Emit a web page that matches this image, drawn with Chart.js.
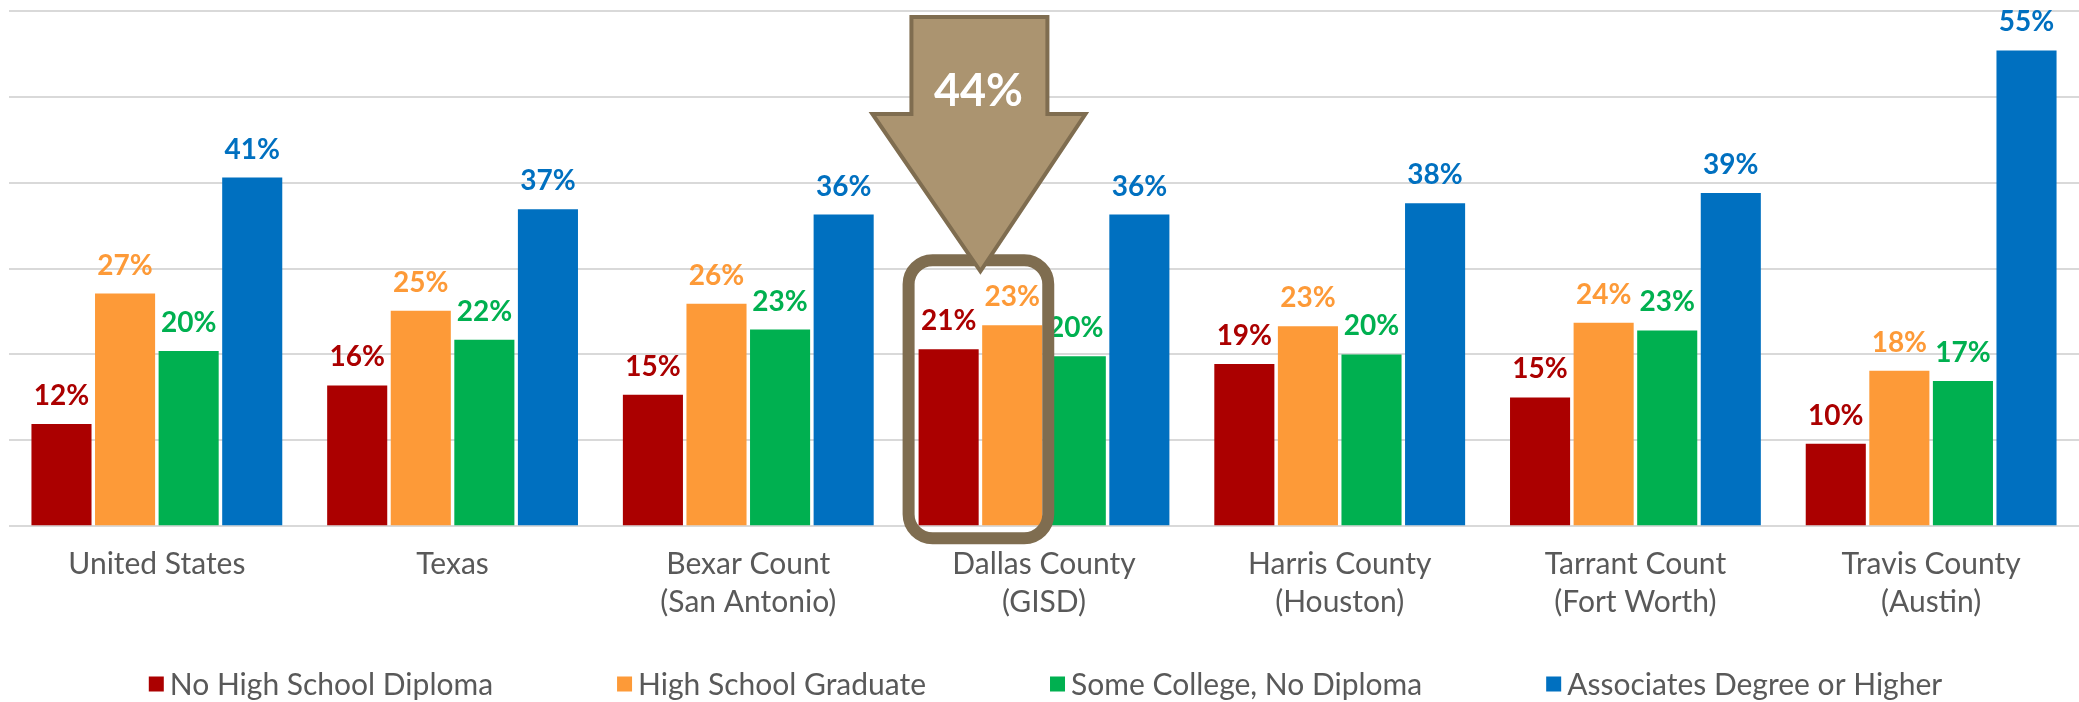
<!DOCTYPE html>
<html>
<head>
<meta charset="utf-8">
<script src="https://cdn.jsdelivr.net/npm/chart.js@4.4.1/dist/chart.umd.min.js"></script>
<style>
	html, body { margin: 0; padding: 0; background: #fff; overflow: hidden; }
	#wadah { width: 2079px; height: 702px; }
</style>
</head>
<body>
<div id="wadah"><canvas id="grafik"></canvas></div>
<script>
// kategori (label sumbu x, dua baris kalau perlu)
var wilayah = [
	['United States'],
	['Texas'],
	['Bexar Count', '(San Antonio)'],
	['Dallas County', '(GISD)'],
	['Harris County', '(Houston)'],
	['Tarrant Count', '(Fort Worth)'],
	['Travis County', '(Austin)']
];

// persen per seri
var noDiploma   = [11.9, 16.4, 15.3, 20.6, 18.9, 15.0, 9.6];
var hsGraduate  = [27.1, 25.1, 25.9, 23.4, 23.3, 23.7, 18.1];
var someCollege = [20.4, 21.7, 22.9, 19.8, 20.0, 22.8, 16.9];
var associates  = [40.6, 36.9, 36.3, 36.3, 37.6, 38.8, 55.4];

var namaSeri  = ['No High School Diploma', 'High School Graduate', 'Some College, No Diploma', 'Associates Degree or Higher'];
var warnaSeri = ['#ab0000', '#fd9a38', '#00b050', '#0070c0'];

var yMin = 0, yMax = 60, yStep = 10;

// sorotan Dallas
var sorotIndex = 3;
var sorotTeks = '44%';

var abu = '#595959';
var huruf = 'Lato';

// label persen di atas batang
var labelAtas = {
	id: 'labelAtas',
	afterDatasetsDraw: function(chart){
		var ctx = chart.ctx;
		ctx.save();
		ctx.font = 'bold 28px ' + huruf;
		ctx.textAlign = 'center';
		ctx.textBaseline = 'alphabetic';
		chart.data.datasets.forEach(function(ds, i){
			var meta = chart.getDatasetMeta(i);
			ctx.fillStyle = ds.backgroundColor;
			meta.data.forEach(function(bar, j){
				ctx.fillText(Math.round(ds.data[j]) + '%', bar.x, bar.y - 19);
			});
		});
		ctx.restore();
	}
};

// kotak + panah di Dallas County
var sorot = {
	id: 'sorot',
	afterDraw: function(chart){
		var ctx = chart.ctx;
		var a = chart.getDatasetMeta(0).data[sorotIndex];
		var b = chart.getDatasetMeta(1).data[sorotIndex];
		var kiri = a.x - a.width / 2 - 10;
		var kanan = b.x + b.width / 2 + 6;
		var atasKotak = Math.min(a.y, b.y) - 65;
		var bawahKotak = chart.scales.y.getPixelForValue(0) + 12;

		ctx.save();
		ctx.strokeStyle = '#7f6d50';
		ctx.lineWidth = 12;
		ctx.beginPath();
		ctx.roundRect(kiri, atasKotak, kanan - kiri, bawahKotak - atasKotak, 24);
		ctx.stroke();

		var cx = (a.x + b.x) / 2;
		var atas = chart.chartArea.top + 6;
		var leher = atas + 97;
		var ujung = atasKotak + 11;
		ctx.beginPath();
		ctx.moveTo(cx - 69, atas);
		ctx.lineTo(cx + 67, atas);
		ctx.lineTo(cx + 67, leher);
		ctx.lineTo(cx + 105, leher);
		ctx.lineTo(cx, ujung);
		ctx.lineTo(cx - 108, leher);
		ctx.lineTo(cx - 69, leher);
		ctx.closePath();
		ctx.fillStyle = '#ab9470';
		ctx.fill();
		ctx.lineWidth = 4;
		ctx.lineJoin = 'miter';
		ctx.stroke();

		ctx.fillStyle = '#ffffff';
		ctx.font = 'bold 45px ' + huruf;
		ctx.textAlign = 'center';
		ctx.textBaseline = 'middle';
		ctx.fillText(sorotTeks, cx - 2, atas + 74);
		ctx.restore();
	}
};

// legenda bawah, digambar sendiri supaya jaraknya pas
var legendaBawah = {
	id: 'legendaBawah',
	afterDraw: function(chart){
		var ctx = chart.ctx;
		ctx.save();
		ctx.font = '30px ' + huruf;
		ctx.textBaseline = 'middle';
		ctx.textAlign = 'left';
		var kotak = 15, jarakTeks = 6, jarakItem = 124;
		var lebar = chart.data.datasets.map(function(ds){
			return kotak + jarakTeks + ctx.measureText(ds.label).width;
		});
		var total = lebar.reduce(function(s, w){ return s + w; }, 0) + jarakItem * (lebar.length - 1);
		var x = (chart.width - total) / 2 + 6;
		var y = chart.height - 18;
		chart.data.datasets.forEach(function(ds, i){
			ctx.fillStyle = ds.backgroundColor;
			ctx.fillRect(x, y - kotak / 2, kotak, kotak);
			ctx.fillStyle = abu;
			ctx.fillText(ds.label, x + kotak + jarakTeks, y + 1);
			x += lebar[i] + jarakItem;
		});
		ctx.restore();
	}
};

var seri = [noDiploma, hsGraduate, someCollege, associates];
var datagrafik = {
	labels: wilayah,
	datasets: seri.map(function(d, i){
		return {
			label: namaSeri[i],
			data: d,
			backgroundColor: warnaSeri[i],
			borderWidth: 0,
			categoryPercentage: 0.86,
			barPercentage: 0.945
		};
	})
};

var grafikku = new Chart(document.getElementById('grafik'), {
	type: 'bar',
	data: datagrafik,
	plugins: [labelAtas, sorot, legendaBawah],
	options: {
		responsive: true,
		maintainAspectRatio: false,
		animation: false,
		devicePixelRatio: 1,
		layout: { padding: { top: 11, left: 9, right: 0, bottom: 69 } },
		plugins: {
			legend: { display: false },
			tooltip: { enabled: false }
		},
		scales: {
			x: {
				grid: { display: false },
				border: { display: false },
				ticks: {
					color: abu,
					font: { family: huruf, size: 30, lineHeight: 1.28 },
					padding: 11,
					maxRotation: 0,
					autoSkip: false
				}
			},
			y: {
				min: yMin,
				max: yMax,
				border: { display: false },
				grid: { color: '#d9d9d9', lineWidth: 2, drawTicks: false },
				ticks: { display: false, stepSize: yStep }
			}
		}
	}
});
</script>
</body>
</html>
